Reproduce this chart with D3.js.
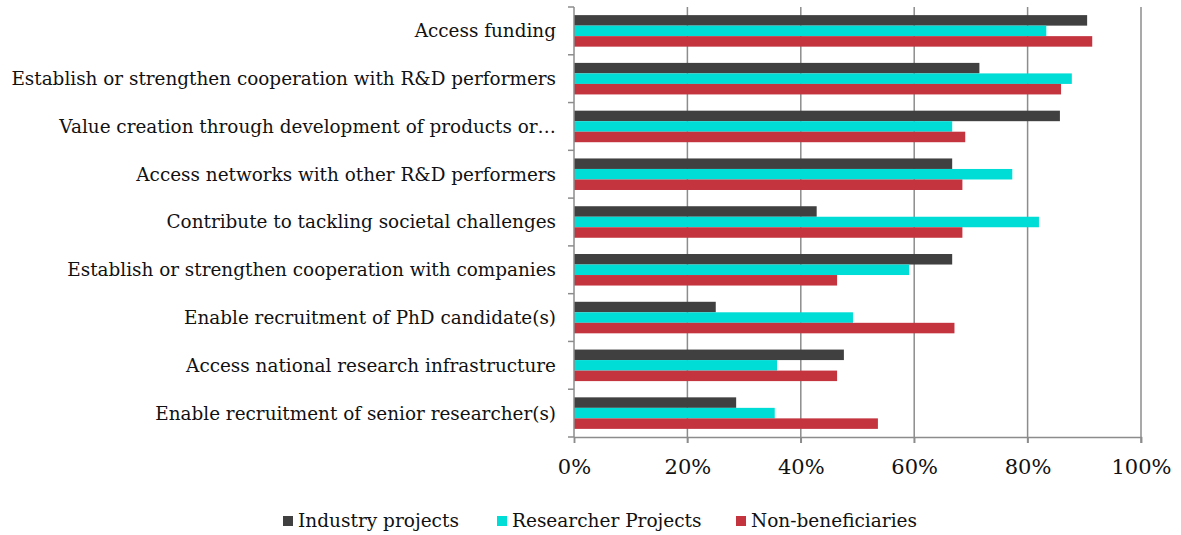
<!DOCTYPE html>
<html>
<head>
<meta charset="utf-8">
<script src="https://cdn.jsdelivr.net/npm/d3@7"></script>
<style>
  body { margin: 0; background: #fff; }
  text { font-family: Georgia, "DejaVu Serif", serif; fill: #111; }
</style>
</head>
<body>
<div id="chart"></div>
<script>
// categories, top to bottom
const categories = [
    "Access funding",
    "Establish or strengthen cooperation with R&D performers",
    "Value creation through development of products or\u2026",
    "Access networks with other R&D performers",
    "Contribute to tackling societal challenges",
    "Establish or strengthen cooperation with companies",
    "Enable recruitment of PhD candidate(s)",
    "Access national research infrastructure",
    "Enable recruitment of senior researcher(s)"
];

const seriesNames = ["Industry projects", "Researcher Projects", "Non-beneficiaries"];

// shares (0-1), same order as categories
const industry   = [0.905, 0.715, 0.857, 0.667, 0.428, 0.667, 0.250, 0.476, 0.286];
const researcher = [0.833, 0.878, 0.667, 0.773, 0.820, 0.591, 0.492, 0.358, 0.354];
const nonBenef   = [0.914, 0.859, 0.690, 0.685, 0.685, 0.464, 0.671, 0.464, 0.536];

const xTicks = [0, 0.2, 0.4, 0.6, 0.8, 1.0];

const colors = ["#404040", "#00dcd6", "#c3343f"];

const data = categories.map((c, i) => ({
    category: c,
    values: [industry[i], researcher[i], nonBenef[i]]
}));

const width = 1181, height = 535;
const margin = { top: 7, right: 40, bottom: 98, left: 574 };
const innerW = 1141 - margin.left;
const innerH = 437 - margin.top;

const svg = d3.select("#chart").append("svg")
    .attr("width", width)
    .attr("height", height);

const g = svg.append("g")
    .attr("transform", "translate(" + margin.left + "," + margin.top + ")");

const x = d3.scaleLinear().domain([0, 1]).range([0, innerW]);
const y = d3.scaleBand().domain(categories).range([0, innerH]).paddingInner(0.34).paddingOuter(0.17);
const ySub = d3.scaleBand().domain(d3.range(3)).range([0, y.bandwidth()]);

// gridlines
g.selectAll(".grid")
    .data(xTicks.slice(1))
    .enter().append("line")
    .attr("class", "grid")
    .attr("x1", d => x(d)).attr("x2", d => x(d))
    .attr("y1", 0).attr("y2", innerH + 6)
    .attr("stroke", "#8c8c8c")
    .attr("stroke-width", 1.5);

// bars
const groups = g.selectAll(".group")
    .data(data)
    .enter().append("g")
    .attr("class", "group")
    .attr("transform", d => "translate(0," + y(d.category) + ")");

groups.selectAll("rect")
    .data(d => d.values)
    .enter().append("rect")
    .attr("x", 0)
    .attr("y", (d, i) => ySub(i))
    .attr("width", d => x(d))
    .attr("height", ySub.bandwidth())
    .attr("fill", (d, i) => colors[i]);

// x axis
const xAxis = d3.axisBottom(x)
    .tickValues(xTicks)
    .tickFormat(d3.format(".0%"))
    .tickSize(6)
    .tickPadding(16);

const xg = g.append("g")
    .attr("transform", "translate(0," + innerH + ")")
    .call(xAxis);
xg.select(".domain").attr("stroke", "#8c8c8c").attr("stroke-width", 1.5);
xg.selectAll(".tick line").attr("stroke", "#8c8c8c").attr("stroke-width", 1.5);
xg.selectAll(".tick text")
    .style("font-size", "21px")
    .style("font-family", "Georgia, 'DejaVu Serif', serif")
    .attr("fill", "#111");

// y axis: line with ticks at category boundaries
const step = y.step();
const boundaries = d3.range(categories.length + 1).map(i => i * step);
g.append("line")
    .attr("x1", 0).attr("x2", 0)
    .attr("y1", 0).attr("y2", innerH)
    .attr("stroke", "#8c8c8c").attr("stroke-width", 1.5);
g.selectAll(".ytick")
    .data(boundaries)
    .enter().append("line")
    .attr("x1", -6).attr("x2", 0)
    .attr("y1", d => d).attr("y2", d => d)
    .attr("stroke", "#8c8c8c").attr("stroke-width", 1.5);

g.selectAll(".ylabel")
    .data(categories)
    .enter().append("text")
    .attr("class", "ylabel")
    .attr("x", -18)
    .attr("y", d => y(d) + y.bandwidth() / 2)
    .attr("dy", "0.35em")
    .attr("text-anchor", "end")
    .style("font-size", "18.4px")
    .text(d => d);

// legend
const legendX = [283, 497, 736];
const legend = svg.selectAll(".legend")
    .data(seriesNames)
    .enter().append("g")
    .attr("class", "legend")
    .attr("transform", (d, i) => "translate(" + legendX[i] + ",521)");

legend.append("rect")
    .attr("x", 0).attr("y", -5)
    .attr("width", 10).attr("height", 10)
    .attr("fill", (d, i) => colors[i]);

legend.append("text")
    .attr("x", 15)
    .attr("dy", "0.35em")
    .style("font-size", "18.5px")
    .text(d => d);
</script>
</body>
</html>
